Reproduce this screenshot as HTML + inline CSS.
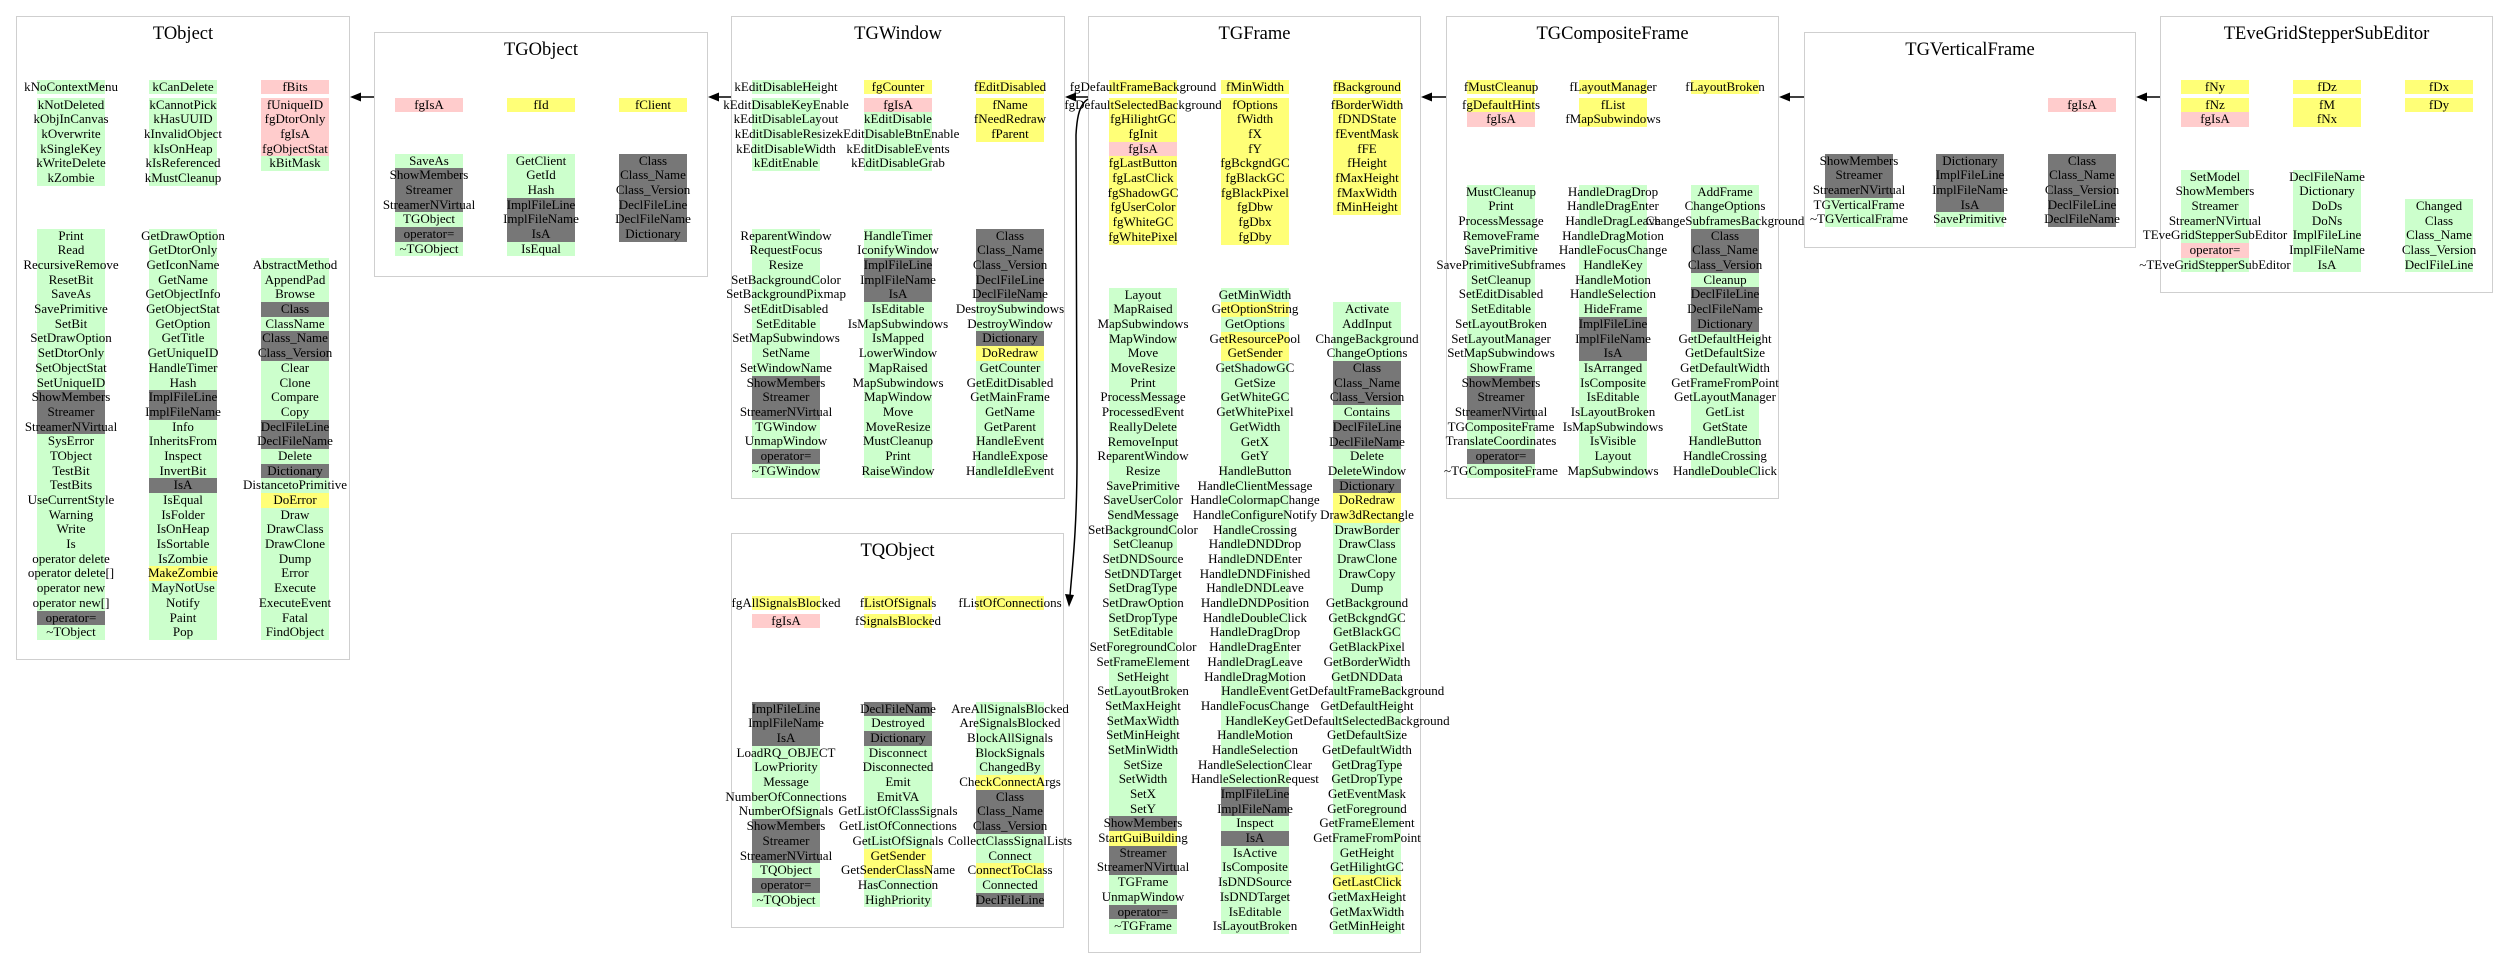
<!DOCTYPE html>
<html><head><meta charset="utf-8"><style>
body{margin:0;width:2509px;height:980px;background:#fff;position:relative;overflow:hidden;font-family:"Liberation Serif",serif;font-size:13px;color:#000}
.b{position:absolute;border:1.5px solid #cfcfcf;box-sizing:border-box}
.t{position:absolute;left:0;right:0;top:5px;text-align:center;font-size:18.5px;line-height:24px}
.c{position:absolute;width:68px}
.c div{height:14.7px;line-height:14.7px;display:flex;justify-content:center;white-space:nowrap}
.c div.h{margin-bottom:3.3px}
.g{background:#ccffcc}.p{background:#ffcccc}.y{background:#ffff77}.k{background:#777}
svg{position:absolute;left:0;top:0}
</style></head><body>

<div class="b" style="left:16px;top:16px;width:334px;height:644px"><div class="t">TObject</div></div>
<div class="b" style="left:374px;top:32px;width:334px;height:245px"><div class="t">TGObject</div></div>
<div class="b" style="left:731px;top:16px;width:334px;height:483px"><div class="t">TGWindow</div></div>
<div class="b" style="left:731px;top:533px;width:333px;height:395px"><div class="t">TQObject</div></div>
<div class="b" style="left:1088px;top:16px;width:333px;height:937px"><div class="t">TGFrame</div></div>
<div class="b" style="left:1446px;top:16px;width:333px;height:483px"><div class="t">TGCompositeFrame</div></div>
<div class="b" style="left:1804px;top:32px;width:332px;height:216px"><div class="t">TGVerticalFrame</div></div>
<div class="b" style="left:2160px;top:16px;width:333px;height:277px"><div class="t">TEveGridStepperSubEditor</div></div>

<!-- TObject -->
<div class="c" style="left:37px;top:79.65px"><div class="g h">kNoContextMenu</div><div class="g">kNotDeleted</div><div class="g">kObjInCanvas</div><div class="g">kOverwrite</div><div class="g">kSingleKey</div><div class="g">kWriteDelete</div><div class="g">kZombie</div></div>
<div class="c" style="left:149px;top:79.65px"><div class="g h">kCanDelete</div><div class="g">kCannotPick</div><div class="g">kHasUUID</div><div class="g">kInvalidObject</div><div class="g">kIsOnHeap</div><div class="g">kIsReferenced</div><div class="g">kMustCleanup</div></div>
<div class="c" style="left:261px;top:79.65px"><div class="p h">fBits</div><div class="p">fUniqueID</div><div class="p">fgDtorOnly</div><div class="p">fgIsA</div><div class="p">fgObjectStat</div><div class="g">kBitMask</div></div>
<div class="c" style="left:37px;top:228.65px"><div class="g">Print</div><div class="g">Read</div><div class="g">RecursiveRemove</div><div class="g">ResetBit</div><div class="g">SaveAs</div><div class="g">SavePrimitive</div><div class="g">SetBit</div><div class="g">SetDrawOption</div><div class="g">SetDtorOnly</div><div class="g">SetObjectStat</div><div class="g">SetUniqueID</div><div class="k">ShowMembers</div><div class="k">Streamer</div><div class="k">StreamerNVirtual</div><div class="g">SysError</div><div class="g">TObject</div><div class="g">TestBit</div><div class="g">TestBits</div><div class="g">UseCurrentStyle</div><div class="g">Warning</div><div class="g">Write</div><div class="g">Is</div><div class="g">operator delete</div><div class="g">operator delete[]</div><div class="g">operator new</div><div class="g">operator new[]</div><div class="k">operator=</div><div class="g">~TObject</div></div>
<div class="c" style="left:149px;top:228.65px"><div class="g">GetDrawOption</div><div class="g">GetDtorOnly</div><div class="g">GetIconName</div><div class="g">GetName</div><div class="g">GetObjectInfo</div><div class="g">GetObjectStat</div><div class="g">GetOption</div><div class="g">GetTitle</div><div class="g">GetUniqueID</div><div class="g">HandleTimer</div><div class="g">Hash</div><div class="k">ImplFileLine</div><div class="k">ImplFileName</div><div class="g">Info</div><div class="g">InheritsFrom</div><div class="g">Inspect</div><div class="g">InvertBit</div><div class="k">IsA</div><div class="g">IsEqual</div><div class="g">IsFolder</div><div class="g">IsOnHeap</div><div class="g">IsSortable</div><div class="g">IsZombie</div><div class="y">MakeZombie</div><div class="g">MayNotUse</div><div class="g">Notify</div><div class="g">Paint</div><div class="g">Pop</div></div>
<div class="c" style="left:261px;top:258.05px"><div class="g">AbstractMethod</div><div class="g">AppendPad</div><div class="g">Browse</div><div class="k">Class</div><div class="g">ClassName</div><div class="k">Class_Name</div><div class="k">Class_Version</div><div class="g">Clear</div><div class="g">Clone</div><div class="g">Compare</div><div class="g">Copy</div><div class="k">DeclFileLine</div><div class="k">DeclFileName</div><div class="g">Delete</div><div class="k">Dictionary</div><div class="g">DistancetoPrimitive</div><div class="y">DoError</div><div class="g">Draw</div><div class="g">DrawClass</div><div class="g">DrawClone</div><div class="g">Dump</div><div class="g">Error</div><div class="g">Execute</div><div class="g">ExecuteEvent</div><div class="g">Fatal</div><div class="g">FindObject</div></div>

<!-- TGObject -->
<div class="c" style="left:395px;top:97.65px"><div class="p">fgIsA</div></div>
<div class="c" style="left:507px;top:97.65px"><div class="y">fId</div></div>
<div class="c" style="left:619px;top:97.65px"><div class="y">fClient</div></div>
<div class="c" style="left:395px;top:153.65px"><div class="g">SaveAs</div><div class="k">ShowMembers</div><div class="k">Streamer</div><div class="k">StreamerNVirtual</div><div class="g">TGObject</div><div class="k">operator=</div><div class="g">~TGObject</div></div>
<div class="c" style="left:507px;top:153.65px"><div class="g">GetClient</div><div class="g">GetId</div><div class="g">Hash</div><div class="k">ImplFileLine</div><div class="k">ImplFileName</div><div class="k">IsA</div><div class="g">IsEqual</div></div>
<div class="c" style="left:619px;top:153.65px"><div class="k">Class</div><div class="k">Class_Name</div><div class="k">Class_Version</div><div class="k">DeclFileLine</div><div class="k">DeclFileName</div><div class="k">Dictionary</div></div>

<!-- TGWindow -->
<div class="c" style="left:752px;top:79.65px"><div class="g h">kEditDisableHeight</div><div class="g">kEditDisableKeyEnable</div><div class="g">kEditDisableLayout</div><div class="g">kEditDisableResize</div><div class="g">kEditDisableWidth</div><div class="g">kEditEnable</div></div>
<div class="c" style="left:864px;top:79.65px"><div class="y h">fgCounter</div><div class="p">fgIsA</div><div class="g">kEditDisable</div><div class="g">kEditDisableBtnEnable</div><div class="g">kEditDisableEvents</div><div class="g">kEditDisableGrab</div></div>
<div class="c" style="left:976px;top:79.65px"><div class="y h">fEditDisabled</div><div class="y">fName</div><div class="y">fNeedRedraw</div><div class="y">fParent</div></div>
<div class="c" style="left:752px;top:228.65px"><div class="g">ReparentWindow</div><div class="g">RequestFocus</div><div class="g">Resize</div><div class="g">SetBackgroundColor</div><div class="g">SetBackgroundPixmap</div><div class="g">SetEditDisabled</div><div class="g">SetEditable</div><div class="g">SetMapSubwindows</div><div class="g">SetName</div><div class="g">SetWindowName</div><div class="k">ShowMembers</div><div class="k">Streamer</div><div class="k">StreamerNVirtual</div><div class="g">TGWindow</div><div class="g">UnmapWindow</div><div class="k">operator=</div><div class="g">~TGWindow</div></div>
<div class="c" style="left:864px;top:228.65px"><div class="g">HandleTimer</div><div class="g">IconifyWindow</div><div class="k">ImplFileLine</div><div class="k">ImplFileName</div><div class="k">IsA</div><div class="g">IsEditable</div><div class="g">IsMapSubwindows</div><div class="g">IsMapped</div><div class="g">LowerWindow</div><div class="g">MapRaised</div><div class="g">MapSubwindows</div><div class="g">MapWindow</div><div class="g">Move</div><div class="g">MoveResize</div><div class="g">MustCleanup</div><div class="g">Print</div><div class="g">RaiseWindow</div></div>
<div class="c" style="left:976px;top:228.65px"><div class="k">Class</div><div class="k">Class_Name</div><div class="k">Class_Version</div><div class="k">DeclFileLine</div><div class="k">DeclFileName</div><div class="g">DestroySubwindows</div><div class="g">DestroyWindow</div><div class="k">Dictionary</div><div class="y">DoRedraw</div><div class="g">GetCounter</div><div class="g">GetEditDisabled</div><div class="g">GetMainFrame</div><div class="g">GetName</div><div class="g">GetParent</div><div class="g">HandleEvent</div><div class="g">HandleExpose</div><div class="g">HandleIdleEvent</div></div>

<!-- TQObject -->
<div class="c" style="left:752px;top:595.65px"><div class="y h">fgAllSignalsBlocked</div><div class="p">fgIsA</div></div>
<div class="c" style="left:864px;top:595.65px"><div class="y h">fListOfSignals</div><div class="y">fSignalsBlocked</div></div>
<div class="c" style="left:976px;top:595.65px"><div class="y">fListOfConnections</div></div>
<div class="c" style="left:752px;top:701.65px"><div class="k">ImplFileLine</div><div class="k">ImplFileName</div><div class="k">IsA</div><div class="g">LoadRQ_OBJECT</div><div class="g">LowPriority</div><div class="g">Message</div><div class="g">NumberOfConnections</div><div class="g">NumberOfSignals</div><div class="k">ShowMembers</div><div class="k">Streamer</div><div class="k">StreamerNVirtual</div><div class="g">TQObject</div><div class="k">operator=</div><div class="g">~TQObject</div></div>
<div class="c" style="left:864px;top:701.65px"><div class="k">DeclFileName</div><div class="g">Destroyed</div><div class="k">Dictionary</div><div class="g">Disconnect</div><div class="g">Disconnected</div><div class="g">Emit</div><div class="g">EmitVA</div><div class="g">GetListOfClassSignals</div><div class="g">GetListOfConnections</div><div class="g">GetListOfSignals</div><div class="y">GetSender</div><div class="y">GetSenderClassName</div><div class="g">HasConnection</div><div class="g">HighPriority</div></div>
<div class="c" style="left:976px;top:701.65px"><div class="g">AreAllSignalsBlocked</div><div class="g">AreSignalsBlocked</div><div class="g">BlockAllSignals</div><div class="g">BlockSignals</div><div class="g">ChangedBy</div><div class="y">CheckConnectArgs</div><div class="k">Class</div><div class="k">Class_Name</div><div class="k">Class_Version</div><div class="g">CollectClassSignalLists</div><div class="g">Connect</div><div class="y">ConnectToClass</div><div class="g">Connected</div><div class="k">DeclFileLine</div></div>

<!-- TGFrame -->
<div class="c" style="left:1109px;top:79.65px"><div class="y h">fgDefaultFrameBackground</div><div class="y">fgDefaultSelectedBackground</div><div class="y">fgHilightGC</div><div class="y">fgInit</div><div class="p">fgIsA</div><div class="y">fgLastButton</div><div class="y">fgLastClick</div><div class="y">fgShadowGC</div><div class="y">fgUserColor</div><div class="y">fgWhiteGC</div><div class="y">fgWhitePixel</div></div>
<div class="c" style="left:1221px;top:79.65px"><div class="y h">fMinWidth</div><div class="y">fOptions</div><div class="y">fWidth</div><div class="y">fX</div><div class="y">fY</div><div class="y">fgBckgndGC</div><div class="y">fgBlackGC</div><div class="y">fgBlackPixel</div><div class="y">fgDbw</div><div class="y">fgDbx</div><div class="y">fgDby</div></div>
<div class="c" style="left:1333px;top:79.65px"><div class="y h">fBackground</div><div class="y">fBorderWidth</div><div class="y">fDNDState</div><div class="y">fEventMask</div><div class="y">fFE</div><div class="y">fHeight</div><div class="y">fMaxHeight</div><div class="y">fMaxWidth</div><div class="y">fMinHeight</div></div>
<div class="c" style="left:1109px;top:287.65px"><div class="g">Layout</div><div class="g">MapRaised</div><div class="g">MapSubwindows</div><div class="g">MapWindow</div><div class="g">Move</div><div class="g">MoveResize</div><div class="g">Print</div><div class="g">ProcessMessage</div><div class="g">ProcessedEvent</div><div class="g">ReallyDelete</div><div class="g">RemoveInput</div><div class="g">ReparentWindow</div><div class="g">Resize</div><div class="g">SavePrimitive</div><div class="g">SaveUserColor</div><div class="g">SendMessage</div><div class="g">SetBackgroundColor</div><div class="g">SetCleanup</div><div class="g">SetDNDSource</div><div class="g">SetDNDTarget</div><div class="g">SetDragType</div><div class="g">SetDrawOption</div><div class="g">SetDropType</div><div class="g">SetEditable</div><div class="g">SetForegroundColor</div><div class="g">SetFrameElement</div><div class="g">SetHeight</div><div class="g">SetLayoutBroken</div><div class="g">SetMaxHeight</div><div class="g">SetMaxWidth</div><div class="g">SetMinHeight</div><div class="g">SetMinWidth</div><div class="g">SetSize</div><div class="g">SetWidth</div><div class="g">SetX</div><div class="g">SetY</div><div class="k">ShowMembers</div><div class="y">StartGuiBuilding</div><div class="k">Streamer</div><div class="k">StreamerNVirtual</div><div class="g">TGFrame</div><div class="g">UnmapWindow</div><div class="k">operator=</div><div class="g">~TGFrame</div></div>
<div class="c" style="left:1221px;top:287.65px"><div class="g">GetMinWidth</div><div class="y">GetOptionString</div><div class="g">GetOptions</div><div class="y">GetResourcePool</div><div class="y">GetSender</div><div class="g">GetShadowGC</div><div class="g">GetSize</div><div class="g">GetWhiteGC</div><div class="g">GetWhitePixel</div><div class="g">GetWidth</div><div class="g">GetX</div><div class="g">GetY</div><div class="g">HandleButton</div><div class="g">HandleClientMessage</div><div class="g">HandleColormapChange</div><div class="g">HandleConfigureNotify</div><div class="g">HandleCrossing</div><div class="g">HandleDNDDrop</div><div class="g">HandleDNDEnter</div><div class="g">HandleDNDFinished</div><div class="g">HandleDNDLeave</div><div class="g">HandleDNDPosition</div><div class="g">HandleDoubleClick</div><div class="g">HandleDragDrop</div><div class="g">HandleDragEnter</div><div class="g">HandleDragLeave</div><div class="g">HandleDragMotion</div><div class="g">HandleEvent</div><div class="g">HandleFocusChange</div><div class="g">HandleKey</div><div class="g">HandleMotion</div><div class="g">HandleSelection</div><div class="g">HandleSelectionClear</div><div class="g">HandleSelectionRequest</div><div class="k">ImplFileLine</div><div class="k">ImplFileName</div><div class="g">Inspect</div><div class="k">IsA</div><div class="g">IsActive</div><div class="g">IsComposite</div><div class="g">IsDNDSource</div><div class="g">IsDNDTarget</div><div class="g">IsEditable</div><div class="g">IsLayoutBroken</div></div>
<div class="c" style="left:1333px;top:302.35px"><div class="g">Activate</div><div class="g">AddInput</div><div class="g">ChangeBackground</div><div class="g">ChangeOptions</div><div class="k">Class</div><div class="k">Class_Name</div><div class="k">Class_Version</div><div class="g">Contains</div><div class="k">DeclFileLine</div><div class="k">DeclFileName</div><div class="g">Delete</div><div class="g">DeleteWindow</div><div class="k">Dictionary</div><div class="y">DoRedraw</div><div class="y">Draw3dRectangle</div><div class="g">DrawBorder</div><div class="g">DrawClass</div><div class="g">DrawClone</div><div class="g">DrawCopy</div><div class="g">Dump</div><div class="g">GetBackground</div><div class="g">GetBckgndGC</div><div class="g">GetBlackGC</div><div class="g">GetBlackPixel</div><div class="g">GetBorderWidth</div><div class="g">GetDNDData</div><div class="g">GetDefaultFrameBackground</div><div class="g">GetDefaultHeight</div><div class="g">GetDefaultSelectedBackground</div><div class="g">GetDefaultSize</div><div class="g">GetDefaultWidth</div><div class="g">GetDragType</div><div class="g">GetDropType</div><div class="g">GetEventMask</div><div class="g">GetForeground</div><div class="g">GetFrameElement</div><div class="g">GetFrameFromPoint</div><div class="g">GetHeight</div><div class="g">GetHilightGC</div><div class="y">GetLastClick</div><div class="g">GetMaxHeight</div><div class="g">GetMaxWidth</div><div class="g">GetMinHeight</div></div>

<!-- TGCompositeFrame -->
<div class="c" style="left:1467px;top:79.65px"><div class="y h">fMustCleanup</div><div class="y">fgDefaultHints</div><div class="p">fgIsA</div></div>
<div class="c" style="left:1579px;top:79.65px"><div class="y h">fLayoutManager</div><div class="y">fList</div><div class="y">fMapSubwindows</div></div>
<div class="c" style="left:1691px;top:79.65px"><div class="y h">fLayoutBroken</div></div>
<div class="c" style="left:1467px;top:184.65px"><div class="g">MustCleanup</div><div class="g">Print</div><div class="g">ProcessMessage</div><div class="g">RemoveFrame</div><div class="g">SavePrimitive</div><div class="g">SavePrimitiveSubframes</div><div class="g">SetCleanup</div><div class="g">SetEditDisabled</div><div class="g">SetEditable</div><div class="g">SetLayoutBroken</div><div class="g">SetLayoutManager</div><div class="g">SetMapSubwindows</div><div class="g">ShowFrame</div><div class="k">ShowMembers</div><div class="k">Streamer</div><div class="k">StreamerNVirtual</div><div class="g">TGCompositeFrame</div><div class="g">TranslateCoordinates</div><div class="k">operator=</div><div class="g">~TGCompositeFrame</div></div>
<div class="c" style="left:1579px;top:184.65px"><div class="g">HandleDragDrop</div><div class="g">HandleDragEnter</div><div class="g">HandleDragLeave</div><div class="g">HandleDragMotion</div><div class="g">HandleFocusChange</div><div class="g">HandleKey</div><div class="g">HandleMotion</div><div class="g">HandleSelection</div><div class="g">HideFrame</div><div class="k">ImplFileLine</div><div class="k">ImplFileName</div><div class="k">IsA</div><div class="g">IsArranged</div><div class="g">IsComposite</div><div class="g">IsEditable</div><div class="g">IsLayoutBroken</div><div class="g">IsMapSubwindows</div><div class="g">IsVisible</div><div class="g">Layout</div><div class="g">MapSubwindows</div></div>
<div class="c" style="left:1691px;top:184.65px"><div class="g">AddFrame</div><div class="g">ChangeOptions</div><div class="g">ChangeSubframesBackground</div><div class="k">Class</div><div class="k">Class_Name</div><div class="k">Class_Version</div><div class="g">Cleanup</div><div class="k">DeclFileLine</div><div class="k">DeclFileName</div><div class="k">Dictionary</div><div class="g">GetDefaultHeight</div><div class="g">GetDefaultSize</div><div class="g">GetDefaultWidth</div><div class="g">GetFrameFromPoint</div><div class="g">GetLayoutManager</div><div class="g">GetList</div><div class="g">GetState</div><div class="g">HandleButton</div><div class="g">HandleCrossing</div><div class="g">HandleDoubleClick</div></div>

<!-- TGVerticalFrame -->
<div class="c" style="left:2048px;top:97.65px"><div class="p">fgIsA</div></div>
<div class="c" style="left:1825px;top:153.65px"><div class="k">ShowMembers</div><div class="k">Streamer</div><div class="k">StreamerNVirtual</div><div class="g">TGVerticalFrame</div><div class="g">~TGVerticalFrame</div></div>
<div class="c" style="left:1936px;top:153.65px"><div class="k">Dictionary</div><div class="k">ImplFileLine</div><div class="k">ImplFileName</div><div class="k">IsA</div><div class="g">SavePrimitive</div></div>
<div class="c" style="left:2048px;top:153.65px"><div class="k">Class</div><div class="k">Class_Name</div><div class="k">Class_Version</div><div class="k">DeclFileLine</div><div class="k">DeclFileName</div></div>

<!-- TEveGridStepperSubEditor -->
<div class="c" style="left:2181px;top:79.65px"><div class="y h">fNy</div><div class="y">fNz</div><div class="p">fgIsA</div></div>
<div class="c" style="left:2293px;top:79.65px"><div class="y h">fDz</div><div class="y">fM</div><div class="y">fNx</div></div>
<div class="c" style="left:2405px;top:79.65px"><div class="y h">fDx</div><div class="y">fDy</div></div>
<div class="c" style="left:2181px;top:169.65px"><div class="g">SetModel</div><div class="g">ShowMembers</div><div class="g">Streamer</div><div class="g">StreamerNVirtual</div><div class="g">TEveGridStepperSubEditor</div><div class="p">operator=</div><div class="g">~TEveGridStepperSubEditor</div></div>
<div class="c" style="left:2293px;top:169.65px"><div class="g">DeclFileName</div><div class="g">Dictionary</div><div class="g">DoDs</div><div class="g">DoNs</div><div class="g">ImplFileLine</div><div class="g">ImplFileName</div><div class="g">IsA</div></div>
<div class="c" style="left:2405px;top:199.05px"><div class="g">Changed</div><div class="g">Class</div><div class="g">Class_Name</div><div class="g">Class_Version</div><div class="g">DeclFileLine</div></div>

<svg width="2509" height="980" viewBox="0 0 2509 980">
<g stroke="#000" stroke-width="1.5" fill="none">
<line x1="374" y1="97" x2="358" y2="97"/>
<line x1="731" y1="97" x2="716" y2="97"/>
<line x1="1088" y1="97" x2="1073" y2="97"/>
<line x1="1446" y1="97" x2="1429" y2="97"/>
<line x1="1804" y1="97" x2="1787" y2="97"/>
<line x1="2160" y1="97" x2="2144" y2="97"/>
<path d="M1088,99 C1080,104 1077,115 1076,135 L1077,460 C1077,530 1072,570 1070,596"/>
</g>
<g fill="#000">
<polygon points="350,97 361,92.5 361,101.5"/>
<polygon points="708,97 719,92.5 719,101.5"/>
<polygon points="1065,97 1076,92.5 1076,101.5"/>
<polygon points="1421,97 1432,92.5 1432,101.5"/>
<polygon points="1779,97 1790,92.5 1790,101.5"/>
<polygon points="2136,97 2147,92.5 2147,101.5"/>
<polygon points="1069,607 1065,594 1074,595"/>
</g>
</svg>
</body></html>
